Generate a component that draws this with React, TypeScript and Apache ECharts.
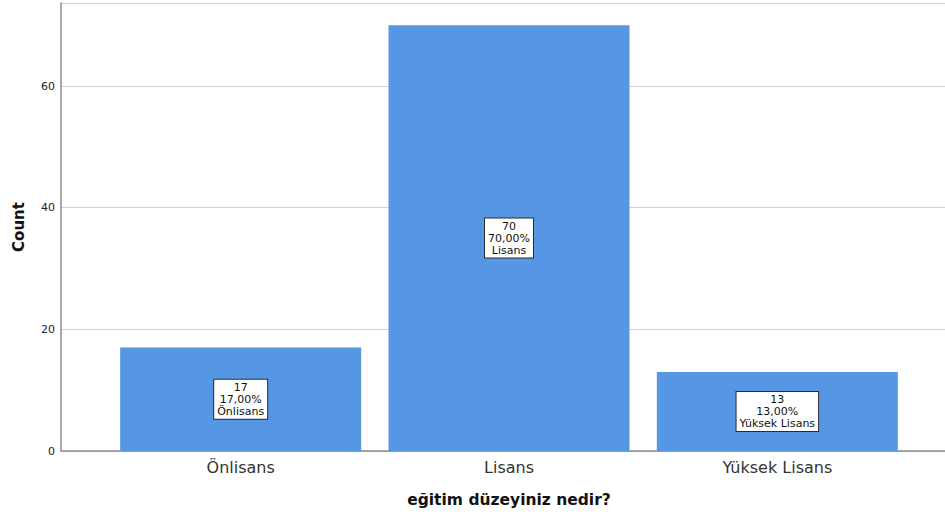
import React, { useEffect, useRef } from "react";
import * as echarts from "echarts";

const categories = ["Önlisans", "Lisans", "Yüksek Lisans"];
const counts = [17, 70, 13];
const percents = ["17,00%", "70,00%", "13,00%"];
const yTicks = [0, 20, 40, 60];

const FONT = "'DejaVu Sans', Verdana, sans-serif";

export default function App() {
  const ref = useRef<HTMLDivElement>(null);

  useEffect(() => {
    if (!ref.current) return;
    const chart = echarts.init(ref.current, undefined, { renderer: "svg" });
    const yMax = 73.65;

    chart.setOption({
      animation: false,
      backgroundColor: "#ffffff",
      textStyle: { fontFamily: FONT },
      grid: [
        // frame grid: y axis, grid lines and baseline
        { left: 61, right: 0, top: 3, bottom: 66 },
        // bar grid: category bands
        { left: 106.5, right: 33.5, top: 3, bottom: 66 },
      ],
      xAxis: [
        {
          gridIndex: 0,
          type: "value",
          min: 0,
          max: 1,
          axisLine: { show: true, lineStyle: { color: "#8c8c8c", width: 1.5 } },
          axisTick: { show: false },
          axisLabel: { show: false },
          splitLine: { show: false },
        },
        {
          gridIndex: 1,
          type: "category",
          data: categories,
          axisLine: { show: false },
          axisTick: { show: false },
          axisLabel: {
            color: "#333333",
            fontSize: 16,
            fontFamily: FONT,
            margin: 8,
          },
          name: "eğitim düzeyiniz nedir?",
          nameLocation: "middle",
          nameGap: 41,
          nameTextStyle: {
            color: "#111111",
            fontSize: 15.5,
            fontWeight: "bold",
            fontFamily: FONT,
          },
        },
      ],
      yAxis: [
        {
          gridIndex: 0,
          type: "value",
          min: 0,
          max: yMax,
          interval: 20,
          axisLine: { show: true, lineStyle: { color: "#8c8c8c", width: 1.5 } },
          axisTick: { show: false },
          axisLabel: {
            color: "#222222",
            fontSize: 11,
            fontFamily: FONT,
            margin: 6,
            formatter: (v: number) => (yTicks.includes(v) ? String(v) : ""),
          },
          splitLine: { show: true, lineStyle: { color: "#d0d0d0", width: 1.2 } },
          name: "Count",
          nameLocation: "middle",
          nameGap: 35,
          nameTextStyle: {
            color: "#111111",
            fontSize: 15,
            fontWeight: "bold",
            fontFamily: FONT,
          },
        },
        {
          gridIndex: 1,
          type: "value",
          min: 0,
          max: yMax,
          show: false,
          splitLine: { show: false },
        },
      ],
      series: [
        {
          type: "bar",
          xAxisIndex: 1,
          yAxisIndex: 1,
          data: counts,
          barWidth: 241,
          itemStyle: { color: "#5596e5" },
          label: {
            show: true,
            position: "inside",
            formatter: (p: any) =>
              `${counts[p.dataIndex]}\n${percents[p.dataIndex]}\n${categories[p.dataIndex]}`,
            color: "#111111",
            fontSize: 11,
            lineHeight: 12,
            fontFamily: FONT,
            align: "center",
            backgroundColor: "#ffffff",
            borderColor: "#2b2b2b",
            borderWidth: 1,
            padding: [2, 3, 1, 3],
          },
        },
      ],
    });

    return () => chart.dispose();
  }, []);

  return <div ref={ref} style={{ width: 945, height: 517, position: "absolute", left: 0, top: 0 }} />;
}
